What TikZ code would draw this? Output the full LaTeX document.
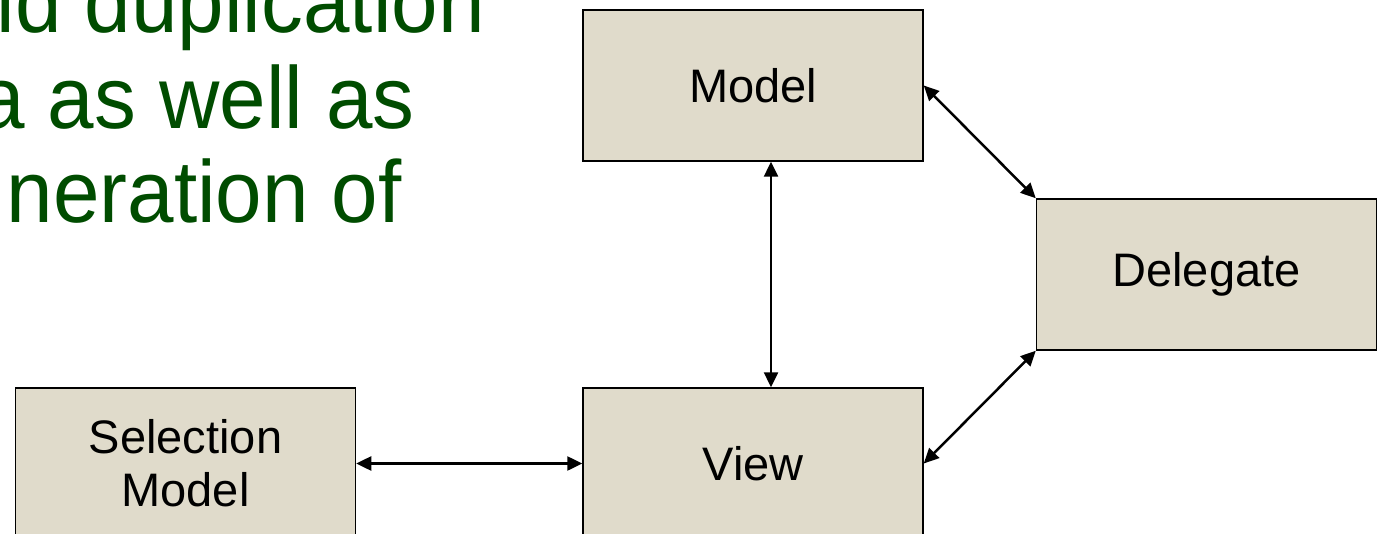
\documentclass[tikz,border=0pt]{standalone}
\usepackage{fontspec}
\setmainfont{Liberation Sans}
\usetikzlibrary{arrows.meta}
\definecolor{boxfill}{RGB}{224,219,203}
\definecolor{slidegreen}{RGB}{0,76,0}
\newcommand{\narrowtext}[1]{\scalebox{0.95}[1]{#1}}
\begin{document}
\begin{tikzpicture}[x=1pt,y=-1pt,
  box/.style={draw=black,line width=1.5pt,fill=boxfill,minimum width=340pt,minimum height=151pt,inner sep=0pt,align=center,font=\fontsize{47}{53}\selectfont},
  gtext/.style={text=slidegreen,inner sep=0pt,anchor=base east,font=\fontsize{88}{96}\selectfont},
  link/.style={line width=2.5pt,{Triangle[length=15pt,width=14pt]}-{Triangle[length=15pt,width=14pt]}}]
\useasboundingbox (0,0) rectangle (1380,534);
\node[gtext] (t1) at (485,33) {\narrowtext{id duplication}};
\node[gtext] (t2) at (415,129) {\narrowtext{a as well as}};
\node[gtext] (t3) at (402,223) {\narrowtext{neration of}};
\node[box] (model) at (753,85.5) {Model};
\node[box] (delegate) at (1206.5,274.5) {Delegate};
\node[box] (view) at (753,463.5) {View};
\node[box] (sel) at (185.5,463.5) {Selection\\Model};
\draw[link] ([xshift=18pt]model.south) -- ([xshift=18pt]view.north);
\draw[link] (model.east) -- (delegate.north west);
\draw[link] (view.east) -- (delegate.south west);
\draw[link] (sel.east) -- (view.west);
\end{tikzpicture}
\end{document}
